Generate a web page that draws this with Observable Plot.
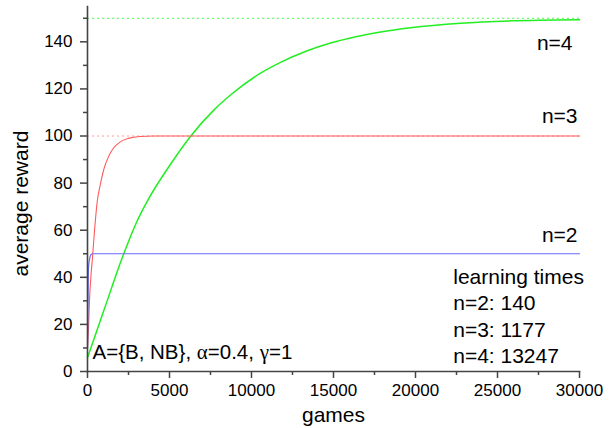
<!DOCTYPE html>
<html>
<head>
<meta charset="utf-8">
<script src="https://cdn.jsdelivr.net/npm/d3@7"></script>
<script src="https://cdn.jsdelivr.net/npm/@observablehq/plot@0.6"></script>
<style>
  html, body { margin: 0; padding: 0; background: #fff; }
  #chart { width: 613px; height: 428px; }
</style>
</head>
<body>
<div id="chart"></div>
<script>
// ---- data ----
const gamesN2 = [0, 30, 60, 120, 200, 320, 30000];
const rewardN2 = [10, 30, 44, 47.5, 49.5, 50, 50];

const gamesN3 = [0, 60, 120, 225, 300, 430, 590, 800, 1000, 1300, 1600, 2000, 2500, 3200, 4000, 30000];
const rewardN3 = [10, 18, 30, 42, 48, 60, 72, 80, 86, 91.5, 95, 97.5, 99, 99.8, 100, 100];

const gamesN4 = [0, 1000, 2210, 3000, 3740, 5060, 6240, 7700, 8720, 10550, 11770, 13400, 14820, 16440, 17870, 19700, 22740, 25800, 30000];
const rewardN4 = [5.8, 26, 50, 63.5, 73.5, 88, 99.5, 111, 117.4, 126.7, 131.3, 136.2, 139.5, 142.3, 144.2, 146, 147.9, 148.9, 149.4];

const optimum = [50, 100, 150];
const seriesLabels = ["n=2", "n=3", "n=4"];
const learningNotes = ["learning times", "n=2: 140", "n=3: 1177", "n=4: 13247"];
const paramText = "A={B, NB}, α=0.4, γ=1";

const xMajor = [0, 5000, 10000, 15000, 20000, 25000, 30000];
const xMinor = [2500, 7500, 12500, 17500, 22500, 27500];
const yMajor = [0, 20, 40, 60, 80, 100, 120, 140];
const yMinor = [10, 30, 50, 70, 90, 110, 130, 150];

const xLabel = "games";
const yLabel = "average reward";

const axisColor = "#444";

const chart = Plot.plot({
  width: 613,
  height: 428,
  marginLeft: 87,
  marginRight: 34,
  marginTop: 6,
  marginBottom: 57,
  style: {fontFamily: "'Liberation Sans', Arial, sans-serif", fontSize: "17px", color: "#000", background: "#fff", overflow: "visible"},
  x: {domain: [0, 30000]},
  y: {domain: [0, 155]},
  marks: [
    // dashed optimum lines
    Plot.ruleY([optimum[2]], {stroke: "#44ff44", strokeDasharray: "2,3", strokeWidth: 1}),
    Plot.ruleY([optimum[1]], {stroke: "#ff9a9a", strokeDasharray: "2,3", strokeWidth: 1}),
    // learning curves
    Plot.line(gamesN4, {x: gamesN4, y: rewardN4, stroke: "#22ee22", strokeWidth: 1.5, curve: "monotone-x"}),
    Plot.line(gamesN3, {x: gamesN3, y: rewardN3, stroke: "#ff5a5a", strokeWidth: 1.1, curve: "monotone-x"}),
    Plot.line(gamesN2, {x: gamesN2, y: rewardN2, stroke: "#6a6aff", strokeWidth: 1.2, curve: "monotone-x"}),
    // axes
    Plot.axisX({ticks: xMajor, tickSize: 7, tickPadding: 5, tickFormat: d => String(d), stroke: axisColor, strokeWidth: 1.5, fontSize: 17, label: null}),
    Plot.axisX({ticks: xMinor, tickSize: 4, tickFormat: () => "", stroke: axisColor, strokeWidth: 1.5, label: null}),
    Plot.axisY({ticks: yMajor, tickSize: 7, tickPadding: 8, tickFormat: d => String(d), stroke: axisColor, strokeWidth: 1.5, fontSize: 17, label: null}),
    Plot.axisY({ticks: yMinor, tickSize: 4, tickFormat: () => "", stroke: axisColor, strokeWidth: 1.5, label: null}),
    Plot.frame({anchor: "bottom", stroke: axisColor, strokeWidth: 1.6}),
    Plot.frame({anchor: "left", stroke: axisColor, strokeWidth: 1.6}),
    // axis labels
    Plot.text([xLabel], {x: 15000, y: -18.5, fontSize: 21, textAnchor: "middle", lineAnchor: "middle"}),
    Plot.text([yLabel], {x: -4024, y: 71.3, fontSize: 21, rotate: -90, textAnchor: "middle", lineAnchor: "middle"}),
    // series labels
    Plot.text([seriesLabels[2]], {x: 30000, y: 139.5, dx: -7, fontSize: 21, textAnchor: "end", lineAnchor: "middle"}),
    Plot.text([seriesLabels[1]], {x: 30000, y: 108.3, dx: -2, fontSize: 21, textAnchor: "end", lineAnchor: "middle"}),
    Plot.text([seriesLabels[0]], {x: 30000, y: 57.7, dx: -2, fontSize: 21, textAnchor: "end", lineAnchor: "middle"}),
    // learning times note
    Plot.text([learningNotes.join("\n")], {x: 22300, y: 3.7, fontSize: 21, textAnchor: "start", lineAnchor: "bottom", lineHeight: 1.25}),
    // parameter note
    Plot.text([paramText], {x: 0, y: 7.9, dx: 5, fontSize: 20.5, textAnchor: "start", lineAnchor: "middle"})
  ]
});

// render greek letters in a serif face, as in the reference
chart.querySelectorAll("text").forEach(t => {
  if (t.textContent === paramText && t.children.length === 0) {
    const parts = paramText.split(/([αγ])/);
    t.textContent = "";
    parts.forEach(p => {
      if (!p) return;
      const ts = document.createElementNS("http://www.w3.org/2000/svg", "tspan");
      if (p === "α" || p === "γ") {
        ts.setAttribute("font-family", "'Liberation Serif', 'DejaVu Serif', serif");
        ts.setAttribute("font-size", "21");
      }
      ts.textContent = p;
      t.appendChild(ts);
    });
  }
});

document.getElementById("chart").appendChild(chart);
</script>
</body>
</html>
